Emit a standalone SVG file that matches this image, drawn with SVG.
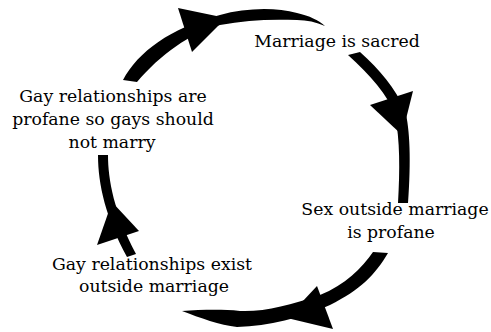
<svg xmlns="http://www.w3.org/2000/svg" width="491" height="332" viewBox="0 0 491 332">
<style>
  .bg { fill: #ffffff; }
  .lbl { font-family: "DejaVu Serif", "Liberation Serif", serif; font-size: 17.3px; fill: #000000; text-anchor: middle; }
  .arc { fill: #000000; stroke: none; }
  .head { fill: #000000; stroke: none; }
</style>
<rect class="bg" x="0" y="0" width="491" height="332"/>
<g id="connectors">
  <g id="arc-top">
    <path class="arc" d="M123,80 C138,52 170,28 220,15 C245,8 275,7 297,13 C310,16 318,20 325,26 C316,22 307,20 297,20 C270,19 245,20 220,25 C190,33 160,55 137,82 Z"/>
    <polygon class="head" points="178,8 226,18 192,52"/>
  </g>
  <g id="arc-right">
    <path class="arc" d="M348,55 L360,52 C380,70 395,88 405,110 C410,130 411,160 408,203 L398,203 C400,170 400,140 395,115 C388,95 370,75 348,55 Z"/>
    <polygon class="head" points="370,105 413,91 402,135"/>
  </g>
  <g id="arc-bottom">
    <path class="arc" d="M373,252 L388,253 C375,275 360,290 330,305 C300,318 270,326 237,327 C220,325 200,318 182,311 C200,310 220,309 240,311 C265,312 290,305 320,295 C345,285 362,268 373,252 Z"/>
    <polygon class="head" points="317,286 333,329 287,318"/>
  </g>
  <g id="arc-left">
    <path class="arc" d="M98,155 L108,155 C108,180 114,212 136,254 L127,257 C106,218 98,185 98,155 Z"/>
    <polygon class="head" points="97,245 139,231 112,202"/>
  </g>
</g>
<g id="node-sacred">
  <text class="lbl" x="337" y="46.5">Marriage is sacred</text>
</g>
<g id="node-sex-profane">
  <text class="lbl" x="395" y="215">Sex outside marriage</text>
  <text class="lbl" x="391" y="238">is profane</text>
</g>
<g id="node-gay-exist">
  <text class="lbl" x="152" y="269.5">Gay relationships exist</text>
  <text class="lbl" x="154" y="291.5">outside marriage</text>
</g>
<g id="node-gay-profane">
  <text class="lbl" x="113" y="101.5">Gay relationships are</text>
  <text class="lbl" x="113" y="124.5">profane so gays should</text>
  <text class="lbl" x="112" y="147.5">not marry</text>
</g>
</svg>
